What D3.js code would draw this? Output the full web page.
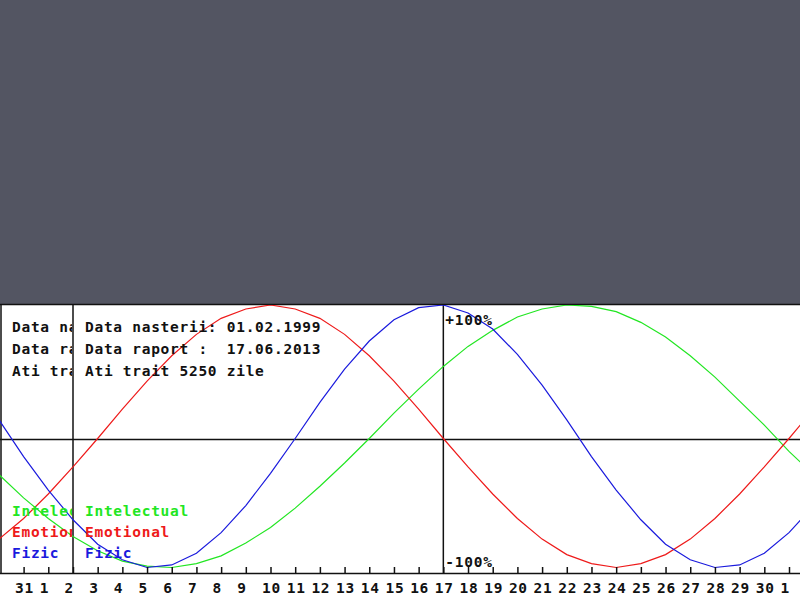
<!DOCTYPE html>
<html><head><meta charset="utf-8">
<script src="https://cdn.jsdelivr.net/npm/d3@7"></script>
<style>html,body{margin:0;padding:0;background:#535562;overflow:hidden}</style>
</head><body><svg id="c" width="800" height="600"></svg>
<script>
// ---- data (daily values in %) ----
const days = ["2013-05-30","2013-05-31","2013-06-01","2013-06-02","2013-06-03","2013-06-04","2013-06-05","2013-06-06","2013-06-07","2013-06-08","2013-06-09","2013-06-10","2013-06-11","2013-06-12","2013-06-13","2013-06-14","2013-06-15","2013-06-16","2013-06-17","2013-06-18","2013-06-19","2013-06-20","2013-06-21","2013-06-22","2013-06-23","2013-06-24","2013-06-25","2013-06-26","2013-06-27","2013-06-28","2013-06-29","2013-06-30","2013-07-01","2013-07-02"];
const fizic       = [14,-14,-40,-63,-82,-94,-100,-98,-89,-73,-52,-27,0,27,52,73,89,98,100,94,82,63,40,14,-14,-40,-63,-82,-94,-100,-98,-89,-73,-52];
const emotional   = [-78,-62,-43,-22,0,22,43,62,78,90,97,100,97,90,78,62,43,22,0,-22,-43,-62,-78,-90,-97,-100,-97,-90,-78,-62,-43,-22,0,22];
const intelectual = [-28,-46,-62,-76,-87,-95,-99,-100,-97,-91,-81,-69,-54,-37,-19,0,19,37,54,69,81,91,97,100,99,95,87,76,62,46,28,10,-10,-28];
const tickDays = days.slice(1, 33);
const reportDay = "2013-06-17";
const infoLines = ["Data nasterii: 01.02.1999", "Data raport :  17.06.2013", "Ati trait 5250 zile"];
const legendLabels = ["Intelectual", "Emotional", "Fizic"];
const legendColors = ["#22e622", "#ee1a1a", "#1a1add"];
const yLabels = ["+100%", "-100%"];
const yLabelValues = [100, -100];

// ---- layout ----
const W = 800, H = 600, panelTop = 304, axisY = 573, splitX = 73;
const parse = d3.utcParse("%Y-%m-%d");
const svg = d3.select("#c");
const font = "'DejaVu Sans Mono', monospace";

const x = d3.scaleUtc().domain([parse("2013-05-31"), parse("2013-07-01")]).range([23.6, 789]);
const y = d3.scaleLinear().domain([-100, 0, 100]).range([567.5, 438.5, 305]);

svg.append("rect").attr("width", W).attr("height", H).attr("fill", "#535562");
svg.append("rect").attr("x", 0).attr("y", panelTop).attr("width", W).attr("height", H - panelTop).attr("fill", "#ffffff");
svg.append("line").attr("x1", 0).attr("x2", W).attr("y1", panelTop + 0.5).attr("y2", panelTop + 0.5).attr("stroke", "#111").attr("stroke-width", 1.6);
svg.append("line").attr("x1", 1).attr("x2", 1).attr("y1", panelTop).attr("y2", axisY).attr("stroke", "#111").attr("stroke-width", 1.5);

const defs = svg.append("defs");
defs.append("clipPath").attr("id", "plot").append("rect").attr("x", 0).attr("y", panelTop + 1).attr("width", W).attr("height", axisY - panelTop - 1);
defs.append("clipPath").attr("id", "left").append("rect").attr("x", 0).attr("y", panelTop).attr("width", splitX - 1).attr("height", H - panelTop);

// guide lines
svg.append("line").attr("x1", 0).attr("x2", W).attr("y1", Math.round(y(0)) + 0.5).attr("y2", Math.round(y(0)) + 0.5).attr("stroke", "#111").attr("stroke-width", 1.5);
svg.append("line").attr("x1", splitX).attr("x2", splitX).attr("y1", panelTop).attr("y2", axisY).attr("stroke", "#111").attr("stroke-width", 1.5);
svg.append("line").attr("x1", x(parse(reportDay))).attr("x2", x(parse(reportDay))).attr("y1", panelTop).attr("y2", axisY).attr("stroke", "#111").attr("stroke-width", 1.5);

// curves
const series = [intelectual, emotional, fizic];
const line = d3.line().x((d, i) => x(parse(days[i]))).y(d => y(d));
const g = svg.append("g").attr("clip-path", "url(#plot)");
series.forEach((s, k) => {
  g.append("path").datum(s).attr("d", line).attr("fill", "none").attr("stroke", legendColors[k]).attr("stroke-width", 1.2);
});

// axis
const axis = d3.axisBottom(x).tickValues(tickDays.map(parse)).tickFormat(d3.utcFormat("%-d")).tickSize(-6).tickPadding(0);
const ag = svg.append("g").attr("transform", `translate(0,${axisY})`).call(axis);
ag.select(".domain").remove();
ag.selectAll(".tick line").attr("stroke", "#111").attr("stroke-width", 1.5);
ag.selectAll(".tick").each(function(d) {
  const t = d3.select(this);
  const tx = x(d);
  if (Math.abs(tx - splitX) < 3) {
    // label sitting on the split line is cut off, as in the reference
    t.append("clipPath").attr("id", "cutTick").append("rect").attr("x", -30).attr("y", -10).attr("width", splitX - 1 - tx + 30).attr("height", 40);
    t.select("text").attr("clip-path", "url(#cutTick)");
  }
});
ag.selectAll(".tick text").attr("x", -9).attr("y", 20).attr("dy", 0).attr("text-anchor", "start")
  .attr("font-family", font).attr("font-weight", "bold").attr("font-size", 14.5).attr("letter-spacing", 0.72).attr("fill", "#111");
svg.append("line").attr("x1", 0).attr("x2", W).attr("y1", axisY + 0.5).attr("y2", axisY + 0.5).attr("stroke", "#111").attr("stroke-width", 1.6);

// y labels
svg.selectAll("text.ylab").data(yLabels).join("text").attr("class", "ylab")
  .attr("x", x(parse(reportDay)) + 2).attr("y", (d, i) => i === 0 ? y(yLabelValues[i]) + 20 : y(yLabelValues[i]) - 0.5)
  .attr("font-family", font).attr("font-weight", "bold").attr("font-size", 14.5).attr("letter-spacing", 0.72).attr("fill", "#111").text(d => d);

// info + legend (main copy and the cut-off left copy)
function texts(parent, x0, cut) {
  const f = s => cut ? s.slice(0, 7) : s;
  parent.selectAll("text.info").data(infoLines).join("text").attr("class", "info")
    .attr("x", x0).attr("y", (d, i) => 332 + i * 22).attr("xml:space", "preserve").style("white-space", "pre")
    .attr("font-family", font).attr("font-weight", "bold").attr("font-size", 14.5).attr("letter-spacing", 0.72).attr("fill", "#111").text(d => f(d));
  parent.selectAll("text.leg").data(legendLabels).join("text").attr("class", "leg")
    .attr("x", x0).attr("y", (d, i) => 516 + i * 21)
    .attr("font-family", font).attr("font-weight", "bold").attr("font-size", 14.5).attr("letter-spacing", 0.72).attr("fill", (d, i) => legendColors[i]).text(d => f(d));
}
texts(svg.append("g").attr("clip-path", "url(#left)"), 12, true);
texts(svg.append("g"), 85, false);
</script></body></html>
